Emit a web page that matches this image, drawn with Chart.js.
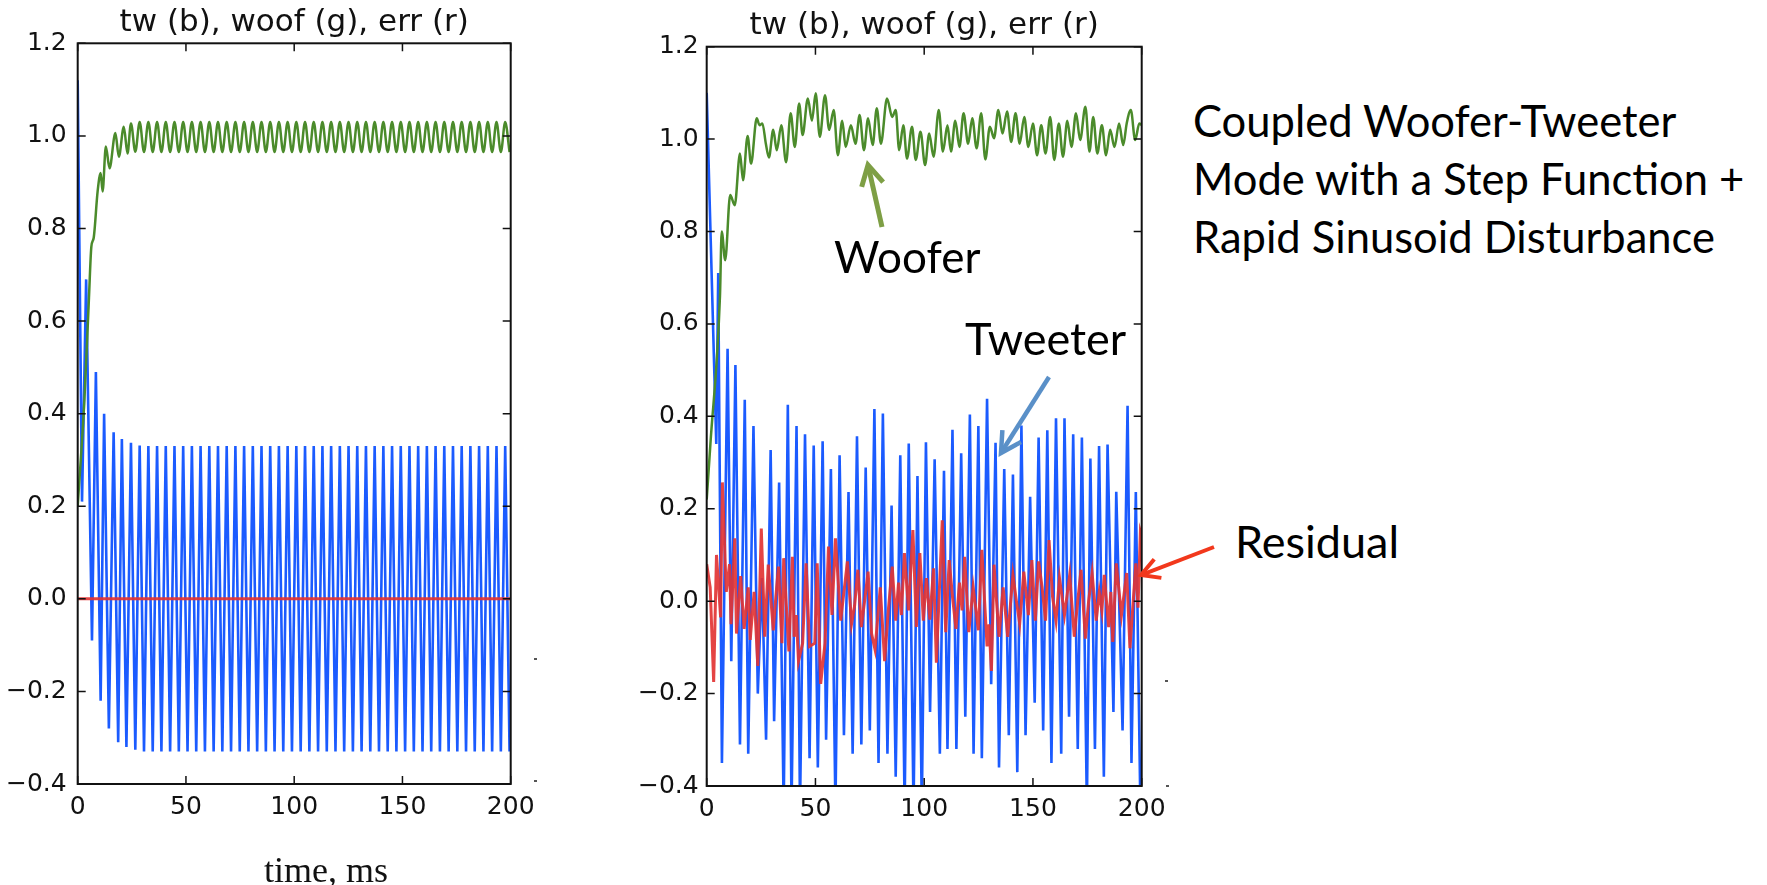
<!DOCTYPE html>
<html lang="en">
<head>
  <meta charset="UTF-8">
  <title>Coupled Woofer-Tweeter</title>
  <script src="https://cdn.jsdelivr.net/npm/chart.js"></script>
  <style>
    html, body { margin: 0; padding: 0; background: #fff; }
    body { width: 1767px; height: 885px; position: relative; overflow: hidden; }
    .plot { position: absolute; top: 0; width: 560px; height: 885px; }
    .note { position: absolute; white-space: nowrap; font-family: 'Lato', sans-serif; color: #000; line-height: 1; font-size: 45px; }
    #xlabel { position: absolute; left: 226px; top: 852px; width: 200px; text-align: center;
      font-family: 'Liberation Serif', serif; font-size: 36px; line-height: 1; color: #111; }
    #side { left: 1193px; top: 91px; line-height: 58px; font-size: 43.5px; }
    #arrows { position: absolute; left: 0; top: 0; pointer-events: none; }
  </style>
</head>
<body>
  <div class="plot" style="left:0"><canvas id="leftChart" width="560" height="885"></canvas></div>
  <div class="plot" style="left:620px"><canvas id="rightChart" width="560" height="885"></canvas></div>

  <div id="xlabel">time, ms</div>

  <div class="note" style="left:834px;top:234px;font-size:44px">Woofer</div>
  <div class="note" style="left:965px;top:316px">Tweeter</div>
  <div class="note" style="left:1235px;top:519px">Residual</div>
  <div class="note" id="side">Coupled Woofer-Tweeter<br>Mode with a Step Function +<br>Rapid Sinusoid Disturbance</div>

  <svg id="arrows" width="1767" height="885"></svg>

  <script>
    // axis ticks
    const xTicks = [0, 50, 100, 150, 200];
    const yTicks = [-0.4, -0.2, 0.0, 0.2, 0.4, 0.6, 0.8, 1.0, 1.2];

    // ---- left panel (step function only) ----
    // tweeter: start-up transient, then steady spikes
    const leftTwEarlyT = [0, 2.0, 3.9, 6.6, 8.4, 10.6, 12.2, 14.4, 16.6, 18.7, 20.4, 22.5];
    const leftTwEarlyV = [1.12, 0.21, 0.69, -0.09, 0.49, -0.22, 0.40, -0.28, 0.36, -0.31, 0.345, -0.32];
    // woofer: rise to 1.0
    const leftWfEarlyT = [0, 3.1, 5.2, 6.3, 7.4, 9.2, 10.6, 11.5, 13.0, 14.7, 17.4, 19.0, 21.3, 23.0];
    const leftWfEarlyV = [0.20, 0.43, 0.65, 0.76, 0.78, 0.88, 0.92, 0.88, 0.977, 0.93, 1.006, 0.955, 1.02, 0.962];
    // steady part, peaks and troughs (ms)
    const leftSteadyT = [
      24.6, 26.61, 28.62, 30.63, 32.64, 34.65, 36.66, 38.67, 40.68, 42.69,
      44.7, 46.71, 48.72, 50.73, 52.74, 54.75, 56.76, 58.77, 60.78, 62.79,
      64.8, 66.81, 68.82, 70.83, 72.84, 74.85, 76.86, 78.87, 80.88, 82.89,
      84.9, 86.91, 88.92, 90.93, 92.94, 94.95, 96.96, 98.97, 100.98, 102.99,
      105.0, 107.01, 109.02, 111.03, 113.04, 115.05, 117.06, 119.07, 121.08, 123.09,
      125.1, 127.11, 129.12, 131.13, 133.14, 135.15, 137.16, 139.17, 141.18, 143.19,
      145.2, 147.21, 149.22, 151.23, 153.24, 155.25, 157.26, 159.27, 161.28, 163.29,
      165.3, 167.31, 169.32, 171.33, 173.34, 175.35, 177.36, 179.37, 181.38, 183.39,
      185.4, 187.41, 189.42, 191.43, 193.44, 195.45, 197.46, 199.47
    ];
    const leftTwSteadyV = [
      0.337, -0.326, 0.331, -0.33, 0.33, -0.33, 0.33, -0.33, 0.33, -0.33,
      0.33, -0.33, 0.33, -0.33, 0.33, -0.33, 0.33, -0.33, 0.33, -0.33,
      0.33, -0.33, 0.33, -0.33, 0.33, -0.33, 0.33, -0.33, 0.33, -0.33,
      0.33, -0.33, 0.33, -0.33, 0.33, -0.33, 0.33, -0.33, 0.33, -0.33,
      0.33, -0.33, 0.33, -0.33, 0.33, -0.33, 0.33, -0.33, 0.33, -0.33,
      0.33, -0.33, 0.33, -0.33, 0.33, -0.33, 0.33, -0.33, 0.33, -0.33,
      0.33, -0.33, 0.33, -0.33, 0.33, -0.33, 0.33, -0.33, 0.33, -0.33,
      0.33, -0.33, 0.33, -0.33, 0.33, -0.33, 0.33, -0.33, 0.33, -0.33,
      0.33, -0.33, 0.33, -0.33, 0.33, -0.33, 0.33, -0.33
    ];
    const leftWfSteadyV = [
      1.027, 0.966, 1.03, 0.965, 1.03, 0.965, 1.03, 0.965, 1.03, 0.965,
      1.03, 0.965, 1.03, 0.965, 1.03, 0.965, 1.03, 0.965, 1.03, 0.965,
      1.03, 0.965, 1.03, 0.965, 1.03, 0.965, 1.03, 0.965, 1.03, 0.965,
      1.03, 0.965, 1.03, 0.965, 1.03, 0.965, 1.03, 0.965, 1.03, 0.965,
      1.03, 0.965, 1.03, 0.965, 1.03, 0.965, 1.03, 0.965, 1.03, 0.965,
      1.03, 0.965, 1.03, 0.965, 1.03, 0.965, 1.03, 0.965, 1.03, 0.965,
      1.03, 0.965, 1.03, 0.965, 1.03, 0.965, 1.03, 0.965, 1.03, 0.965,
      1.03, 0.965, 1.03, 0.965, 1.03, 0.965, 1.03, 0.965, 1.03, 0.965,
      1.03, 0.965, 1.03, 0.965, 1.03, 0.965, 1.03, 0.965
    ];
    // residual is flat zero
    const leftErrT = [0, 200];
    const leftErrV = [0, 0];

    // ---- right panel (step + rapid sinusoid) ----
    const rightTwT = [
      0, 4.4, 5.3, 7.0, 9.6, 11.3, 13.2, 15.3, 17.5, 19.1, 21.5, 23.5, 25.4, 27.3, 29.4, 31.0,
      33.3, 35.4, 37.3, 39.0, 41.3, 42.9, 45.2, 47.3, 49.2, 51.1, 53.3, 54.9, 57.1, 59.2,
      61.1, 63.1, 65.2, 67.1, 69.1, 71.1, 73.1, 75.0, 77.1, 79.0, 81.0, 83.1, 85.0, 86.9,
      89.0, 91.0, 92.9, 95.1, 96.9, 98.9, 100.8, 102.7, 104.8, 107.2, 109.1, 110.7, 113.0,
      114.8, 117.0, 118.9, 121.0, 122.7, 124.9, 126.5, 128.9, 130.8, 132.8, 134.4, 136.8,
      138.9, 140.8, 142.8, 144.7, 146.6, 148.7, 150.8, 152.6, 154.7, 156.6, 158.5, 160.6,
      163.0, 164.5, 166.6, 168.5, 170.6, 172.5, 174.8, 176.4, 178.5, 180.4, 182.6, 184.3,
      187.0, 188.3, 191.2, 193.5, 195.3, 197.3, 199.4
    ];
    const rightTwV = [
      1.10, 0.34, 0.71, -0.35, 0.546, -0.13, 0.511, -0.31, 0.436, -0.33, 0.379, -0.20, 0.05, -0.30, 0.327, -0.26,
      0.257, -0.45, 0.425, -0.45, 0.379, -0.45, 0.361, -0.34, 0.337, -0.36, 0.346, -0.30, 0.286, -0.45,
      0.316, -0.29, 0.236, -0.33, 0.357, -0.31, 0.289, -0.28, 0.416, -0.35, 0.406, -0.33, 0.207, -0.38,
      0.316, -0.45, 0.341, -0.45, 0.271, -0.45, 0.344, -0.24, 0.307, -0.33, 0.282, -0.32, 0.371,
      -0.32, 0.32, -0.25, 0.404, -0.33, 0.379, -0.34, 0.438, -0.18, 0.343, -0.36, 0.286,
      -0.29, 0.274, -0.37, 0.38, -0.29, 0.226, -0.22, 0.354, -0.28, 0.37, -0.35, 0.396,
      -0.33, 0.396, -0.25, 0.361, -0.32, 0.354, -0.45, 0.309, -0.32, 0.336, -0.38, 0.339,
      -0.24, 0.237, -0.28, 0.423, -0.35, 0.236, -0.45
    ];
    const rightWfT = [
      0, 1.7, 6.1, 6.9, 8.5, 10.8, 12.9, 15.3, 16.7, 18.8, 20.4, 23.0, 24.3, 25.6, 27.2, 28.6,
      30.6, 32.2, 34.3, 36.5, 38.6, 40.5, 42.5, 44.1, 46.5, 48.4, 50.1, 52.0, 54.4, 56.3,
      58.4, 60.3, 62.3, 63.9, 66.3, 68.4, 70.3, 72.3, 74.2, 76.3, 78.2, 80.1, 82.9, 85.3,
      86.9, 88.5, 90.4, 92.1, 94.4, 96.1, 98.3, 100.4, 102.3, 104.3, 106.7, 108.6, 110.7,
      112.3, 114.3, 116.2, 118.1, 120.2, 122.1, 124.1, 126.2, 128.1, 130.2, 132.1, 134.1,
      136.0, 138.1, 140.0, 142.0, 143.9, 146.0, 147.9, 150.0, 151.9, 153.8, 155.8, 157.9,
      159.8, 161.9, 163.8, 165.8, 167.7, 169.8, 171.7, 174.1, 176.0, 177.7, 179.6, 181.7,
      183.6, 185.5, 187.5, 189.6, 191.5, 193.1, 195.0, 197.0, 198.9, 200.0
    ];
    const rightWfV = [
      0.22, 0.34, 0.66, 0.80, 0.738, 0.879, 0.857, 0.969, 0.911, 1.007, 0.947, 1.045, 1.03, 1.034, 0.99, 0.96,
      1.02, 0.976, 1.03, 0.95, 1.056, 0.983, 1.077, 1.009, 1.088, 1.04, 1.099, 1.005, 1.095, 1.02,
      1.063, 0.965, 1.04, 0.983, 1.03, 0.99, 1.052, 0.976, 1.045, 0.987, 1.067, 0.99, 1.088, 1.048,
      1.063, 0.976, 1.03, 0.958, 1.027, 0.955, 1.016, 0.944, 1.012, 0.962, 1.063, 0.973, 1.03,
      0.973, 1.04, 0.983, 1.056, 0.99, 1.045, 0.98, 1.056, 0.956, 1.027, 1.002, 1.063,
      1.012, 1.06, 0.994, 1.056, 0.99, 1.048, 0.983, 1.034, 0.965, 1.03, 0.969, 1.048,
      0.955, 1.034, 0.962, 1.04, 0.983, 1.056, 0.998, 1.07, 0.973, 1.048, 0.969, 1.03,
      0.965, 1.02, 0.983, 1.034, 0.987, 1.034, 1.063, 0.998, 1.034, 1.03
    ];
    const rightErrT = [
      0, 1.6, 3.2, 4.5, 6.4, 7.2, 9.0, 10.5, 11.2, 12.9, 13.7, 15.6, 17.2, 19.1, 20.0, 21.8,
      23.5, 25.1, 26.7, 28.3, 30.6, 31.8, 33.0, 34.6, 35.4, 37.8, 39.4, 40.2, 41.2, 42.2,
      44.1, 45.7, 47.3, 49.7, 50.8, 52.4, 54.4, 56.0, 57.6, 59.2, 61.6, 63.1, 64.7, 66.6,
      68.0, 69.5, 71.1, 72.6, 74.2, 75.8, 77.4, 79.8, 81.8, 83.5, 85.3, 86.9, 88.2, 89.5,
      90.9, 92.8, 94.8, 96.4, 98.0, 99.6, 101.0, 102.6, 104.3, 105.6, 108.3, 109.9, 111.5,
      113.0, 114.6, 116.2, 117.4, 118.6, 120.5, 122.5, 124.9, 126.5, 128.9, 129.8, 130.9,
      132.1, 134.4, 136.3, 138.4, 140.8, 142.4, 143.9, 145.8, 147.9, 149.5, 151.1, 152.6,
      154.2, 155.8, 157.4, 159.0, 160.6, 162.2, 164.5, 166.9, 169.0, 170.6, 172.1, 174.1,
      175.6, 177.2, 179.1, 180.5, 181.7, 182.8, 184.8, 185.8, 186.7, 188.3, 190.7, 193.1,
      194.6, 197.3, 198.3, 199.4, 200.0
    ];
    const rightErrV = [
      0.08, 0.03, -0.175, 0.10, -0.035, 0.257, 0.02, 0.08, -0.05, 0.136, -0.07, 0.054, -0.06, 0.03, -0.084, 0.02,
      -0.14, 0.157, -0.077, 0.079, -0.063, 0.01, 0.075, -0.091, 0.093, -0.109, 0.096, -0.077, -0.03, -0.13,
      -0.091, 0.082, -0.098, -0.091, 0.082, -0.179, -0.091, 0.118, -0.03, 0.136, -0.042, 0.02, 0.086, -0.049,
      -0.01, 0.068, -0.056, 0.0, 0.064, -0.07, -0.105, 0.03, -0.13, -0.02, 0.075, -0.042, 0.04, -0.03,
      0.104, -0.02, 0.154, -0.056, 0.104, -0.042, 0.05, -0.04, 0.071, -0.133, 0.175, -0.067, 0.089,
      0.01, -0.06, 0.04, -0.02, 0.096, -0.067, 0.03, -0.063, 0.111, -0.098, -0.05, -0.151,
      0.079, -0.077, 0.03, -0.077, 0.057, 0.0, -0.049, 0.064, -0.03, 0.089, -0.042, 0.086,
      0.03, -0.042, 0.132, 0.01, -0.042, 0.05, -0.03, 0.057, -0.077, 0.0, 0.068, -0.081,
      0.0, 0.061, -0.042, 0.02, -0.02, 0.057, -0.056, 0.02, -0.088, 0.082, -0.03, 0.061,
      -0.102, 0.082, -0.014, 0.15, 0.14
    ];

    const BLUE = '#1b5bff';
    const GREEN = '#4b8b2b';
    const RED = 'rgba(226, 52, 52, 0.92)';

    const toPoints = (ts, vs) => ts.map((t, i) => ({ x: t, y: vs[i] }));
    const fmtY = v => {
      if (Math.abs(v) < 1e-9) return '0.0';
      const s = v.toFixed(1);
      return v < 0 ? '\u2212' + s.slice(1) : s;
    };

    // matplotlib style frame with inward ticks on all four sides
    const frameTicks = {
      id: 'frameTicks',
      afterDatasetsDraw(chart) {
        const { ctx, chartArea: a, scales: { x, y } } = chart;
        ctx.save();
        ctx.strokeStyle = '#111';
        ctx.lineWidth = 1.5;
        ctx.beginPath();
        xTicks.forEach(v => {
          const px = x.getPixelForValue(v);
          ctx.moveTo(px, a.bottom); ctx.lineTo(px, a.bottom - 8);
          ctx.moveTo(px, a.top); ctx.lineTo(px, a.top + 8);
        });
        yTicks.forEach(v => {
          const py = y.getPixelForValue(v);
          ctx.moveTo(a.left, py); ctx.lineTo(a.left + 8, py);
          ctx.moveTo(a.right, py); ctx.lineTo(a.right - 8, py);
        });
        ctx.stroke();
        ctx.lineWidth = 2;
        ctx.strokeRect(a.left, a.top, a.right - a.left, a.bottom - a.top);
        ctx.restore();
      }
    };

    const tickFont = { family: 'DejaVu Sans', size: 25 };

    const makeChart = (id, c) => new Chart(document.getElementById(id), {
      type: 'scatter',
      data: {
        datasets: [
          { label: 'err', data: toPoints(c.errT, c.errV), borderColor: RED, borderWidth: 3 },
          // woofer drawn as a smooth curve through its peaks and troughs
          { label: 'woof', data: toPoints(c.wfT, c.wfV), borderColor: GREEN, borderWidth: 2.5,
            cubicInterpolationMode: 'monotone' },
          { label: 'tw', data: toPoints(c.twT, c.twV), borderColor: BLUE, borderWidth: 2.6 }
        ].map(d => Object.assign({ showLine: true, pointRadius: 0, fill: false }, d))
      },
      options: {
        responsive: false,
        animation: false,
        devicePixelRatio: 1,
        layout: { padding: { left: 0, right: c.padRight, top: 0, bottom: 0 } },
        plugins: {
          legend: { display: false },
          tooltip: { enabled: false },
          title: {
            display: true,
            text: 'tw (b), woof (g), err (r)',
            fullSize: false,
            color: '#111',
            font: { family: 'DejaVu Sans', size: 31, weight: 'normal' },
            padding: c.titlePad
          }
        },
        scales: {
          x: {
            type: 'linear', min: 0, max: 200,
            afterBuildTicks: ax => { ax.ticks = xTicks.map(v => ({ value: v })); },
            afterFit: s => { s.height = c.xAxisH; },
            ticks: { font: tickFont, color: '#111', padding: 8, maxRotation: 0, autoSkip: false,
              callback: v => String(v) },
            grid: { display: false, drawTicks: false },
            border: { display: false }
          },
          y: {
            type: 'linear', min: -0.4, max: 1.2,
            afterBuildTicks: ax => { ax.ticks = yTicks.map(v => ({ value: v })); },
            afterFit: s => { s.width = c.yAxisW; },
            ticks: { font: tickFont, color: '#111', padding: c.yPad, autoSkip: false, callback: fmtY },
            grid: { display: false, drawTicks: false },
            border: { display: false }
          }
        }
      },
      plugins: [frameTicks]
    });

    makeChart('leftChart', {
      twT: leftTwEarlyT.concat(leftSteadyT), twV: leftTwEarlyV.concat(leftTwSteadyV),
      wfT: leftWfEarlyT.concat(leftSteadyT), wfV: leftWfEarlyV.concat(leftWfSteadyV),
      errT: leftErrT, errV: leftErrV,
      padRight: 49.3, yAxisW: 77.7, xAxisH: 101, yPad: 11,
      titlePad: { top: 4, bottom: 2.1 }
    });

    makeChart('rightChart', {
      twT: rightTwT, twV: rightTwV,
      wfT: rightWfT, wfV: rightWfV,
      errT: rightErrT, errV: rightErrV,
      padRight: 38.3, yAxisW: 86.7, xAxisH: 99, yPad: 8,
      titlePad: { top: 7.5, bottom: 2 }
    });

    // annotation arrows (tail -> tip) with open heads
    const svg = document.getElementById('arrows');
    const NS = 'http://www.w3.org/2000/svg';
    const arrows = [
      { tail: [882, 227], tip: [868, 165], color: '#7e9f45', w: 5, head: 20, half: 11 },
      { tail: [1049, 377], tip: [1001, 453], color: '#5a90c8', w: 4.5, head: 20, half: 11 },
      { tail: [1214, 547], tip: [1141, 575], color: '#f2381c', w: 4, head: 18, half: 10 }
    ];
    arrows.forEach(a => {
      const dx = a.tip[0] - a.tail[0], dy = a.tip[1] - a.tail[1];
      const len = Math.hypot(dx, dy);
      const ux = dx / len, uy = dy / len;
      const bx = a.tip[0] - ux * a.head, by = a.tip[1] - uy * a.head;
      const nx = -uy, ny = ux;
      const line = document.createElementNS(NS, 'line');
      line.setAttribute('x1', a.tail[0]); line.setAttribute('y1', a.tail[1]);
      line.setAttribute('x2', a.tip[0] - ux * 2); line.setAttribute('y2', a.tip[1] - uy * 2);
      line.setAttribute('stroke', a.color); line.setAttribute('stroke-width', a.w);
      svg.appendChild(line);
      const head = document.createElementNS(NS, 'polyline');
      head.setAttribute('points', [
        [bx + nx * a.half, by + ny * a.half], a.tip, [bx - nx * a.half, by - ny * a.half]
      ].map(p => p.join(',')).join(' '));
      head.setAttribute('fill', 'none'); head.setAttribute('stroke', a.color);
      head.setAttribute('stroke-width', a.w); head.setAttribute('stroke-linejoin', 'miter');
      svg.appendChild(head);
    });

    // little stray marks to the right of each panel
    [[534, 658], [534, 780], [1165, 680], [1166, 785]].forEach(p => {
      const r = document.createElementNS(NS, 'rect');
      r.setAttribute('x', p[0]); r.setAttribute('y', p[1]);
      r.setAttribute('width', 3); r.setAttribute('height', 2);
      r.setAttribute('fill', '#555');
      svg.appendChild(r);
    });
  </script>
</body>
</html>
